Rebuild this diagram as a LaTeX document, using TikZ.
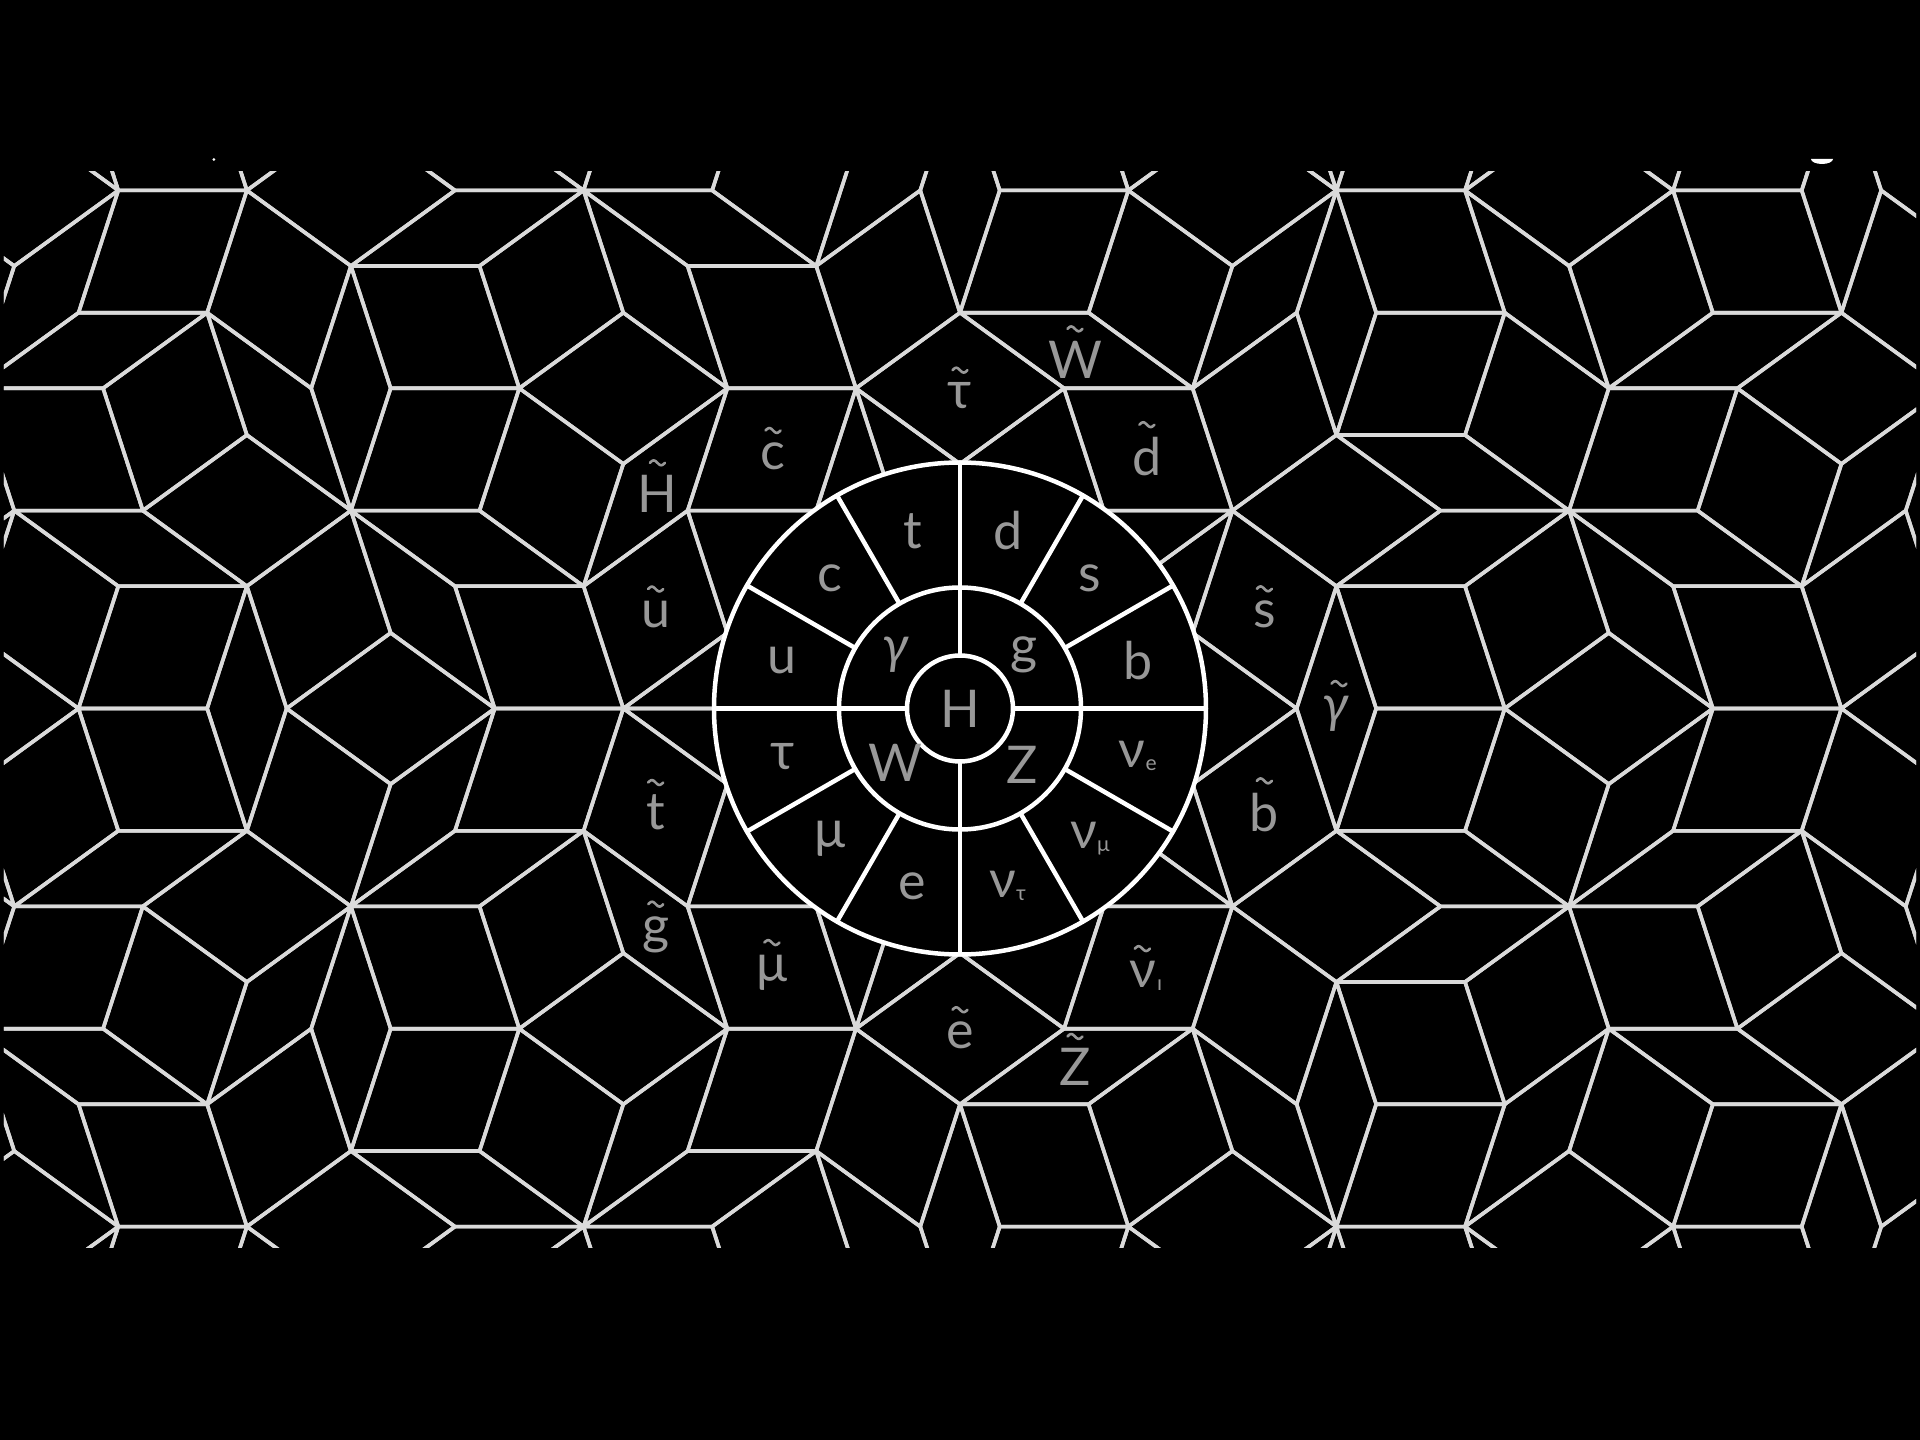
\documentclass[tikz,border=0pt]{standalone}
\usepackage{fontspec}
\setmainfont{Lato}
\usepackage{xfp}
\definecolor{tileline}{RGB}{218,218,218}
\definecolor{lbl}{RGB}{152,152,152}
\def\unitA{128.6}
\def\gam{0.4}
\expandafter\def\csname cc0\endcsname{1}
\expandafter\def\csname ss0\endcsname{0}
\expandafter\def\csname cc1\endcsname{0.30901699437494745}
\expandafter\def\csname ss1\endcsname{0.9510565162951535}
\expandafter\def\csname cc2\endcsname{-0.8090169943749475}
\expandafter\def\csname ss2\endcsname{0.5877852522924731}
\expandafter\def\csname cc3\endcsname{-0.8090169943749475}
\expandafter\def\csname ss3\endcsname{-0.5877852522924731}
\expandafter\def\csname cc4\endcsname{0.30901699437494745}
\expandafter\def\csname ss4\endcsname{-0.9510565162951535}
\newcommand\myC[1]{\csname cc#1\endcsname}
\newcommand\myS[1]{\csname ss#1\endcsname}
\newcommand\KK[1]{\csname KK#1\endcsname}
\newcommand\sub[1]{\raisebox{-3pt}{\fontsize{21}{21}\selectfont #1}}
% a drawn tilde above a named node: \tildeon[raise]{xshift}{node}
\newcommand\tildeon[3][12]{\draw[tildestroke,shift={(#3.north)},xshift=#2pt,yshift=#1pt]
  plot[domain=0:1,samples=17,smooth] ({-7.5+15*\x},{2.4*sin(360*\x)});}
\begin{document}
\begin{tikzpicture}[x=1pt,y=1pt,
  tile/.style={draw=tileline,line width=3.6pt,line join=round},
  ring/.style={draw=white,line width=4.5pt},
  lab/.style={text=lbl,font=\fontsize{52}{52}\selectfont,inner sep=0pt},
  slab/.style={lab,yshift=-5pt},
  tildestroke/.style={draw=lbl,line width=2.6pt,line cap=round}]
\useasboundingbox (-960,-731.5) rectangle (960,708.5);
\fill[black] (-960,-731.5) rectangle (960,708.5);
\begin{scope}
\clip (-956,-538.5) rectangle (956,536.5);
\foreach \ia in {0,...,3}{%
 \pgfmathtruncatemacro\ib{\ia+1}%
 \foreach \ic in {\ib,...,4}{%
  \edef\mydet{\fpeval{\myC\ia*\myS\ic-\myS\ia*\myC\ic}}%
  \edef\vrx{\fpeval{round(\unitA*\myC\ia,4)}}%
  \edef\vry{\fpeval{round(\unitA*\myS\ia,4)}}%
  \edef\vsx{\fpeval{round(\unitA*\myC\ic,4)}}%
  \edef\vsy{\fpeval{round(\unitA*\myS\ic,4)}}%
  \edef\mvrx{\fpeval{round(-\unitA*\myC\ia,4)}}%
  \edef\mvry{\fpeval{round(-\unitA*\myS\ia,4)}}%
  \foreach \kr in {-6,...,5}{%
   \foreach \ks in {-6,...,5}{%
     \edef\px{\fpeval{((\kr+\gam)*\myS\ic-(\ks+\gam)*\myS\ia)/\mydet}}%
     \edef\py{\fpeval{((\ks+\gam)*\myC\ia-(\kr+\gam)*\myC\ic)/\mydet}}%
     \ifnum\fpeval{(abs(\px)<4.0)&&(abs(\py)<2.7)}=1\relax
       \foreach \jj in {0,...,4}{%
         \ifnum\jj=\ia\relax\expandafter\xdef\csname KK\jj\endcsname{\kr}%
         \else\ifnum\jj=\ic\relax\expandafter\xdef\csname KK\jj\endcsname{\ks}%
         \else\expandafter\xdef\csname KK\jj\endcsname{\fpeval{ceil(\px*\myC\jj+\py*\myS\jj-\gam)}}%
         \fi\fi}%
       \edef\bx{\fpeval{round(\unitA*(\KK0*\myC0+\KK1*\myC1+\KK2*\myC2+\KK3*\myC3+\KK4*\myC4),3)}}%
       \edef\by{\fpeval{round(\unitA*(\KK0*\myS0+\KK1*\myS1+\KK2*\myS2+\KK3*\myS3+\KK4*\myS4),3)}}%
       \draw[tile] (\bx,\by) -- ++(\vrx,\vry) -- ++(\vsx,\vsy) -- ++(\mvrx,\mvry) -- cycle;
     \fi
   }}}}
\end{scope}
% central particle wheel
\fill[black] (0,0) circle (246);
\draw[ring] (0,0) circle (246);
\draw[ring] (0,0) circle (121);
\draw[ring] (0,0) circle (53);
\draw[ring] (0,53) -- (0,246);
\draw[ring] (0,-53) -- (0,-246);
\draw[ring] (53,0) -- (246,0);
\draw[ring] (-53,0) -- (-246,0);
\foreach \t in {30,60,120,150,210,240,300,330}{\draw[ring] (\t:121) -- (\t:246);}
% particle labels
\node[lab] (lH) at (0,0) {H};
\node[lab] (lg) at (40:84) {g};
\node[lab] (lgam) at (140:84) {\itshape γ};
\node[lab] (lW) at (220:84) {W};
\node[lab] (lZ) at (318:84) {Z};
\node[lab] (lb) at (15:184) {b};
\node[lab] (ls) at (45:184) {s};
\node[lab] (ld) at (75:184) {d};
\node[lab] (lt) at (105:184) {t};
\node[lab] (lc) at (135:184) {c};
\node[lab] (lu) at (165:184) {u};
\node[lab] (ltau) at (195:184) {τ};
\node[lab] (lmu) at (225:184) {μ};
\node[lab] (le) at (255:184) {e};
\node[lab] (lnt) at (285:184) {ν\sub{τ}};
\node[lab] (lnm) at (315:184) {ν\sub{μ}};
\node[lab] (lne) at (345:184) {ν\sub{e}};
% superpartner labels
\node[slab] (ss) at (18:320) {s};
\node[slab] (sd) at (54:318) {d};
\node[slab] (stau) at (90:318) {τ};
\node[slab] (sc) at (126:318) {c};
\node[slab] (su) at (162:320) {u};
\node[slab] (st) at (198:320) {t};
\node[slab] (smu) at (234:320) {μ};
\node[slab] (se) at (270:322) {e};
\node[slab] (snu) at (305:318) {ν};
\node[lab,anchor=base west] (snusub) at ([xshift=1pt]snu.base east) {\sub{ı}};
\node[slab] (sb) at (342:320) {b};
\node[slab] (sgam) at (0:376) {\itshape γ};
\node[slab] (sW) at (72:372) {W};
\node[slab] (sH) at (144:374) {H};
\node[slab] (sg) at (216:376) {g};
\node[slab] (sZ) at (288:372) {Z};
\foreach \n in {ss,sd,stau,sc,su,st,smu,se,snu,sb,sW,sH,sg,sZ}{\tildeon{0}{\n}}
\tildeon{3}{sgam}
% small marks above the frame
\fill[white] (851,549.5) arc[start angle=180,end angle=360,x radius=11,y radius=5] -- cycle;
\fill[white] (-746,549) circle (1.5);
\end{tikzpicture}
\end{document}
